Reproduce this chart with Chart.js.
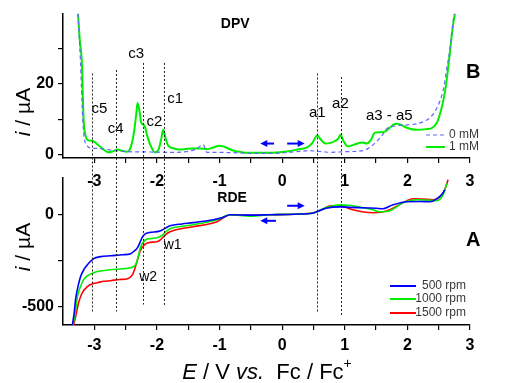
<!DOCTYPE html>
<html>
<head>
<meta charset="utf-8">
<script src="https://cdn.jsdelivr.net/npm/chart.js@4/dist/chart.umd.min.js"></script>
<style>
  html, body { margin: 0; padding: 0; background: #fff; }
  #wrap { position: relative; width: 509px; height: 383px; }
  canvas { position: absolute; left: 0; top: 0; }
</style>
</head>
<body>
<div id="wrap">
  <canvas id="dpv" width="509" height="383"></canvas>
  <canvas id="rde" width="509" height="383"></canvas>
</div>
<script>
// --- DPV (panel B), current in µA ---
const dpv1x = [-3.26,-3.23,-3.2,-3.17,-3.14,-3.09,-3.03,-2.97,-2.88,-2.77,-2.70,-2.63,-2.55,-2.47,-2.42,-2.37,-2.33,-2.31,-2.28,-2.25,-2.2,-2.15,-2.1,-2.03,-1.97,-1.93,-1.9,-1.86,-1.82,-1.72,-1.63,-1.52,-1.42,-1.31,-1.2,-1.1,-1.0,-0.94,-0.86,-0.78,-0.66,-0.56,-0.4,-0.14,0.1,0.24,0.4,0.48,0.56,0.62,0.69,0.77,0.85,0.9,0.93,0.98,1.05,1.15,1.28,1.35,1.42,1.48,1.56,1.64,1.72,1.78,1.83,1.9,1.99,2.15,2.3,2.4,2.47,2.52,2.57,2.62,2.65,2.68,2.71,2.74,2.76];
const dpv1y = [40,32,26.5,9.6,5.4,4.0,3.9,3.2,1.8,0.6,0.9,1.4,1.0,0.8,2.0,5.9,11.5,14.6,12.5,9.0,8.2,5.0,2.5,0.6,1.6,4.5,7.0,4.5,2.5,1.7,1.4,1.6,1.7,1.7,1.5,2.0,2.5,2.3,1.7,1.1,0.7,0.5,0.5,0.5,0.9,1.4,2.0,3.2,5.4,4.2,3.1,3.3,3.9,4.6,5.6,3.8,2.3,2.8,3.4,3.1,4.2,6.2,6.3,6.5,7.6,8.5,8.7,8.4,7.6,7.0,7.2,7.6,9.0,11.5,15,20,24.5,29,34,38,40];
const dpv0x = [-3.26,-3.22,-3.19,-3.16,-3.12,-3.09,-2.95,-2.7,-2.47,-2.1,-1.79,-1.5,-1.38,-1.3,-1.26,-1.2,-1.0,-0.78,-0.4,-0.16,0.1,0.3,0.45,0.55,0.65,0.77,1.0,1.29,1.4,1.52,1.6,1.67,1.75,1.83,2.0,2.15,2.28,2.36,2.45,2.52,2.58,2.63,2.68,2.73,2.75];
const dpv0y = [40,26,12,4.5,2.8,2.0,1.7,1.2,0.8,0.7,0.6,0.9,1.5,2.5,2.8,0.6,0.6,0.5,0.3,0.3,0.6,0.9,1.1,0.9,0.8,0.6,0.8,1.1,2.0,3.9,5.5,7.3,7.9,8.2,8.4,8.7,9.5,10.4,12.5,15.2,19,24.5,30,37.7,40];

// --- RDE (panel A), current in µA ---
const rde500x = [-3.35,-3.32,-3.3,-3.26,-3.22,-3.16,-3.11,-3.01,-2.9,-2.74,-2.55,-2.42,-2.37,-2.31,-2.27,-2.23,-2.18,-2.1,-2.0,-1.95,-1.91,-1.85,-1.79,-1.6,-1.42,-1.1,-0.95,-0.83,-0.5,-0.2,0.2,0.5,0.7,0.93,1.1,1.29,1.5,1.61,1.77,1.99,2.2,2.36,2.49,2.55,2.6];
const rde500y = [-600,-530,-462,-390,-337,-295,-272,-239,-228,-223,-218,-212,-200,-179,-150,-120,-103,-96,-92,-88,-82,-70,-60,-50,-43,-27,-15,0,-2,0,3,10,35,43,40,38,35,33,54,71,72,71,92,110,136];
const rde1000x = [-3.34,-3.3,-3.27,-3.22,-3.17,-3.1,-3.01,-2.9,-2.74,-2.55,-2.42,-2.34,-2.3,-2.26,-2.22,-2.18,-2.1,-2.0,-1.95,-1.91,-1.85,-1.79,-1.6,-1.42,-1.04,-0.83,-0.5,-0.2,0.2,0.5,0.7,0.93,1.1,1.29,1.45,1.56,1.72,1.93,2.15,2.3,2.47,2.57,2.63];
const rde1000y = [-600,-520,-446,-390,-353,-330,-315,-306,-299,-294,-288,-272,-230,-174,-150,-136,-130,-125,-118,-109,-90,-76,-63,-54,-27,0,-8,0,3,10,40,54,50,38,27,16,22,65,82,80,76,109,170];
const rde1500x = [-3.33,-3.29,-3.25,-3.2,-3.11,-3.02,-2.95,-2.85,-2.74,-2.6,-2.47,-2.39,-2.35,-2.31,-2.27,-2.23,-2.14,-2.0,-1.95,-1.91,-1.85,-1.79,-1.6,-1.42,-1.04,-0.83,-0.5,-0.2,0.2,0.5,0.65,0.77,0.9,1.0,1.13,1.3,1.45,1.6,1.72,1.93,2.09,2.25,2.41,2.55,2.6,2.65];
const rde1500y = [-600,-540,-478,-430,-391,-375,-370,-362,-359,-352,-348,-326,-290,-245,-200,-174,-152,-147,-138,-125,-105,-92,-75,-65,-38,0,-3,0,3,11,30,49,49,42,27,15,11,15,27,65,87,85,82,109,140,190];

// peak markers (potential, V) shared by both panels
const peakX = [-3.03,-2.65,-2.22,-1.89,0.56,0.94];
const peakTopY = [23,24,26,26,23,22];
const peakBottomY = [-533,-527,-489,-495,-533,-554];

const xTicks = [-3,-2.5,-2,-1.5,-1,-0.5,0,0.5,1,1.5,2,2.5,3];
const dpvTicks = [0,10,20,30];
const dpvLabels = [0,20];
const rdeTicks = [-500,-250,0];
const rdeLabels = [-500,0];

const FONT = '"Liberation Sans", Arial, sans-serif';

function pts(xs, ys) {
  return xs.map((x, i) => ({ x: x, y: ys[i] }));
}

function xAxis(padBottom) {
  return {
    type: 'linear', min: -3.5, max: 3,
    afterBuildTicks: s => { s.ticks = xTicks.map(v => ({ value: v })); },
    afterFit: s => { s.height = 30; },
    ticks: {
      autoSkip: false, maxRotation: 0, minRotation: 0, padding: padBottom,
      color: '#000', font: { family: FONT, size: 16, weight: 'bold' },
      callback: v => Number.isInteger(v) ? String(v) : ''
    },
    grid: { drawOnChartArea: false, tickLength: 5, color: '#000', lineWidth: 1.2 },
    border: { color: '#000', width: 1.5 }
  };
}

function yAxis(min, max, tickVals, labelVals) {
  return {
    type: 'linear', min: min, max: max,
    afterBuildTicks: s => { s.ticks = tickVals.map(v => ({ value: v })); },
    afterFit: s => { s.width = 63; },
    ticks: {
      padding: 4, color: '#000', font: { family: FONT, size: 16, weight: 'bold' },
      callback: v => labelVals.includes(v) ? String(v) : ''
    },
    grid: { drawOnChartArea: false, tickLength: 5, color: '#000', lineWidth: 1.2 },
    border: { color: '#000', width: 1.5 }
  };
}

function text(ctx, str, x, y, font, align) {
  ctx.font = font;
  ctx.textAlign = align || 'center';
  ctx.textBaseline = 'middle';
  ctx.fillStyle = '#000';
  ctx.fillText(str, x, y);
}

// y title "i / µA" with italic i
function yTitle(ctx, cx, cy) {
  ctx.save();
  ctx.translate(cx, cy);
  ctx.rotate(-Math.PI / 2);
  ctx.textBaseline = 'middle';
  ctx.fillStyle = '#000';
  const f1 = 'italic 21px ' + FONT, f2 = '21px ' + FONT;
  ctx.font = f1; const w1 = ctx.measureText('i').width;
  ctx.font = f2; const w2 = ctx.measureText(' / µA').width;
  let x = -(w1 + w2) / 2;
  ctx.textAlign = 'left';
  ctx.font = f1; ctx.fillText('i', x, 0);
  ctx.font = f2; ctx.fillText(' / µA', x + w1, 0);
  ctx.restore();
}

function arrow(ctx, x1, x2, y) {
  // arrow from x1 to x2, head at x2
  const dir = Math.sign(x2 - x1);
  ctx.save();
  ctx.strokeStyle = '#0000ff';
  ctx.fillStyle = '#0000ff';
  ctx.lineWidth = 2;
  ctx.beginPath();
  ctx.moveTo(x1, y);
  ctx.lineTo(x2 - dir * 5, y);
  ctx.stroke();
  ctx.beginPath();
  ctx.moveTo(x2, y);
  ctx.lineTo(x2 - dir * 7, y - 3.5);
  ctx.lineTo(x2 - dir * 7, y + 3.5);
  ctx.closePath();
  ctx.fill();
  ctx.restore();
}

const dpvDecor = {
  id: 'dpvDecor',
  afterDraw(chart) {
    const ctx = chart.ctx, xs = chart.scales.x, ys = chart.scales.y;
    const X = v => xs.getPixelForValue(v), Y = v => ys.getPixelForValue(v);
    const lab = '15px ' + FONT;
    text(ctx, 'c5', X(-2.92), Y(13), lab);
    text(ctx, 'c4', X(-2.66), Y(7.3), lab);
    text(ctx, 'c3', X(-2.33), Y(28.7), lab);
    text(ctx, 'c2', X(-2.04), Y(9.3), lab);
    text(ctx, 'c1', X(-1.71), Y(15.8), lab);
    text(ctx, 'a1', X(0.56), Y(11.8), lab);
    text(ctx, 'a2', X(0.93), Y(14.4), lab);
    text(ctx, 'a3 - a5', X(1.71), Y(11), lab);
    text(ctx, 'DPV', X(-0.75), Y(36.9), 'bold 14px ' + FONT);
    text(ctx, 'B', X(3.05), Y(23.4), 'bold 20px ' + FONT);
    arrow(ctx, X(-0.13), X(-0.35), Y(3.1));
    arrow(ctx, X(0.08), X(0.36), Y(3.1));
    // legend
    const r = chart.chartArea.right;
    ctx.save();
    ctx.lineWidth = 1.2; ctx.strokeStyle = '#6666ff'; ctx.setLineDash([4, 3]);
    ctx.beginPath(); ctx.moveTo(r - 44, 135); ctx.lineTo(r - 25, 135); ctx.stroke();
    ctx.setLineDash([]); ctx.lineWidth = 2; ctx.strokeStyle = '#00ee00';
    ctx.beginPath(); ctx.moveTo(r - 44, 147); ctx.lineTo(r - 25, 147); ctx.stroke();
    ctx.restore();
    ctx.save(); ctx.globalAlpha = 0.8;
    text(ctx, '0 mM', r - 21, 135, '12px ' + FONT, 'left');
    text(ctx, '1 mM', r - 21, 147, '12px ' + FONT, 'left');
    ctx.restore();
    yTitle(ctx, 24, 112);
  }
};

const dpvChart = new Chart(document.getElementById('dpv'), {
  type: 'line',
  data: {
    datasets: [
      { label: '0 mM', data: pts(dpv0x, dpv0y), borderColor: '#6666ff', borderWidth: 1.2, borderDash: [4, 3] },
      { label: '1 mM', data: pts(dpv1x, dpv1y), borderColor: '#00ee00', borderWidth: 2 }
    ]
  },
  options: {
    responsive: false, animation: false, devicePixelRatio: 1,
    parsing: false, clip: 0,
    elements: { point: { radius: 0 }, line: { cubicInterpolationMode: 'monotone', fill: false } },
    layout: { padding: { left: 0, top: 12, right: 39, bottom: 195 } },
    plugins: { legend: { display: false }, tooltip: { enabled: false } },
    scales: { x: xAxis(9), y: yAxis(-1, 40, dpvTicks, dpvLabels) }
  },
  plugins: [dpvDecor]
});

const rdeDecor = {
  id: 'rdeDecor',
  afterDraw(chart) {
    const ctx = chart.ctx, xs = chart.scales.x, ys = chart.scales.y;
    const X = v => xs.getPixelForValue(v), Y = v => ys.getPixelForValue(v);
    const topY = dpvChart.scales.y;
    // dotted peak markers across both panels
    ctx.save();
    ctx.strokeStyle = '#222'; ctx.lineWidth = 1; ctx.setLineDash([2, 2]);
    peakX.forEach((px, i) => {
      const x = Math.round(X(px)) + 0.5;
      ctx.beginPath();
      ctx.moveTo(x, topY.getPixelForValue(peakTopY[i]));
      ctx.lineTo(x, Y(peakBottomY[i]));
      ctx.stroke();
    });
    ctx.restore();
    text(ctx, 'RDE', X(-0.8), Y(92), 'bold 14px ' + FONT);
    text(ctx, 'A', X(3.05), Y(-141), 'bold 20px ' + FONT);
    text(ctx, 'w1', X(-1.75), Y(-168), '14px ' + FONT);
    text(ctx, 'w2', X(-2.14), Y(-337), '14px ' + FONT);
    arrow(ctx, X(0.08), X(0.36), Y(49));
    arrow(ctx, X(-0.1), X(-0.35), Y(-33));
    // legend
    const items = [['500 rpm', '#0000ff', 286], ['1000 rpm', '#00ee00', 299], ['1500 rpm', '#ff0000', 313]];
    items.forEach(it => {
      ctx.save();
      ctx.strokeStyle = it[1]; ctx.lineWidth = 2;
      ctx.beginPath(); ctx.moveTo(390, it[2]); ctx.lineTo(416, it[2]); ctx.stroke();
      ctx.globalAlpha = 0.8;
      text(ctx, it[0], 466, it[2], '12px ' + FONT, 'right');
      ctx.restore();
    });
    yTitle(ctx, 24, 247);
    // x title: E / V vs. Fc / Fc+
    const parts = [['E', 'italic 22px '], [' / V ', '22px '], ['vs.', 'italic 22px '], ['  Fc / Fc', '22px ']];
    let w = 0;
    parts.forEach(p => { ctx.font = p[1] + FONT; w += ctx.measureText(p[0]).width; });
    ctx.font = '14px ' + FONT; w += ctx.measureText('+').width;
    let x = 267 - w / 2;
    ctx.fillStyle = '#000'; ctx.textAlign = 'left'; ctx.textBaseline = 'alphabetic';
    parts.forEach(p => {
      ctx.font = p[1] + FONT; ctx.fillText(p[0], x, 379);
      x += ctx.measureText(p[0]).width;
    });
    ctx.font = '14px ' + FONT; ctx.fillText('+', x, 368);
  }
};

new Chart(document.getElementById('rde'), {
  type: 'line',
  data: {
    datasets: [
      { label: '500 rpm', data: pts(rde500x, rde500y), borderColor: '#0000ff', borderWidth: 1.6 },
      { label: '1000 rpm', data: pts(rde1000x, rde1000y), borderColor: '#00ee00', borderWidth: 1.6 },
      { label: '1500 rpm', data: pts(rde1500x, rde1500y), borderColor: '#ff0000', borderWidth: 1.6 }
    ]
  },
  options: {
    responsive: false, animation: false, devicePixelRatio: 1,
    parsing: false,
    elements: { point: { radius: 0 }, line: { cubicInterpolationMode: 'monotone', fill: false } },
    layout: { padding: { left: 0, top: 178, right: 39, bottom: 28 } },
    plugins: { legend: { display: false }, tooltip: { enabled: false } },
    scales: { x: xAxis(6), y: yAxis(-600, 200, rdeTicks, rdeLabels) }
  },
  plugins: [rdeDecor]
});
</script>
</body>
</html>
